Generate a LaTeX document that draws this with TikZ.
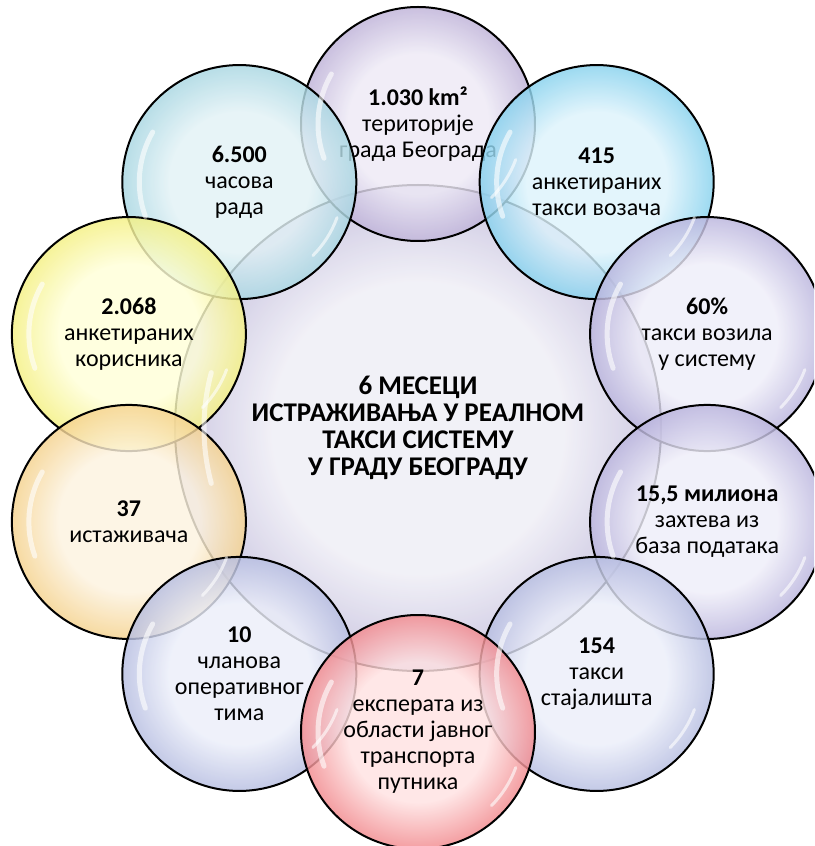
\documentclass[tikz,border=0pt]{standalone}
\usepackage{fontspec}
\setmainfont{Carlito}
\usetikzlibrary{calc}

% colours of the bubbles (rim / inside)
\definecolor{lilacrim}{HTML}{7A62AE}
\definecolor{lilacin}{HTML}{EEEAF6}
\definecolor{cyanrim}{HTML}{0AA2DA}
\definecolor{cyanin}{HTML}{DDF3FC}
\definecolor{violetrim}{HTML}{6E62B6}
\definecolor{violetin}{HTML}{EFEEF9}
\definecolor{peririm}{HTML}{6A77BE}
\definecolor{periin}{HTML}{ECEFFA}
\definecolor{redrim}{HTML}{E00A14}
\definecolor{redin}{HTML}{FFE2E2}
\definecolor{orangerim}{HTML}{EAA418}
\definecolor{orangein}{HTML}{FDF3E0}
\definecolor{yellowrim}{HTML}{E6DC08}
\definecolor{yellowin}{HTML}{FFFFD8}
\definecolor{tealrim}{HTML}{56B0C6}
\definecolor{tealin}{HTML}{E2F2F6}
\definecolor{hubrim}{HTML}{8074B6}
\definecolor{hubin}{HTML}{EFEEF6}
\colorlet{bubin}{white}
\colorlet{bubout}{black}

\pgfdeclareradialshading[bubin,bubout]{bubble}{\pgfpoint{0bp}{0bp}}{%
  color(0bp)=(bubin); color(15bp)=(bubin);
  color(26bp)=(bubout!45!bubin); color(33bp)=(bubout); color(50bp)=(bubout)}

\tikzset{
  bubble/.style 2 args={circle, draw=black, line width=2pt,
    minimum size=234pt, inner sep=0pt, shade, shading=bubble,
    fill opacity=0.82, draw opacity=1, text opacity=1,
    align=center, font=\fontsize{24}{26}\selectfont,
    /utils/exec={\colorlet{bubout}{#1}\colorlet{bubin}{#2}}},
  hub/.style={bubble={hubrim}{hubin}, minimum size=486pt,
    font=\fontsize{27}{27}\selectfont\bfseries},
  glint/.style={white, line width=5pt, opacity=0.6, line cap=round}
}

\begin{document}
\begin{tikzpicture}[x=1pt, y=1pt]
\useasboundingbox (-418,-418) rectangle (396,428);
\clip (-418,-418) rectangle (396,428);
\fill[white] (-418,-418) rectangle (396,428);

\node[hub] (ctr) at (0,0) {6 МЕСЕЦИ\\ИСТРАЖИВАЊА У РЕАЛНОМ\\ТАКСИ СИСТЕМУ\\У ГРАДУ БЕОГРАДУ};

\node[bubble={lilacrim}{lilacin}] (b1) at (90:304) {\textbf{1.030 km²}\\територије\\града Београда};
\node[bubble={tealrim}{tealin}] (b10) at (126:304) {\textbf{6.500}\\часова\\рада};
\node[bubble={cyanrim}{cyanin}] (b2) at (54:304) {\textbf{415}\\анкетираних\\такси возача};
\node[bubble={violetrim}{violetin}] (b3) at (18:304) {\textbf{60\%}\\такси возила\\у систему};
\node[bubble={violetrim}{violetin}] (b4) at (-18:304) {\textbf{15,5 милиона}\\захтева из\\база података};
\node[bubble={peririm}{periin}] (b5) at (-54:304) {\textbf{154}\\такси\\стајалишта};
\node[bubble={yellowrim}{yellowin}] (b9) at (162:304) {\textbf{2.068}\\анкетираних\\корисника};
\node[bubble={orangerim}{orangein}] (b8) at (-162:304) {\textbf{37}\\истаживача};
\node[bubble={peririm}{periin}] (b7) at (-126:304) {\textbf{10}\\чланова\\оперативног\\тима};
\node[bubble={redrim}{redin}] (b6) at (-90:304) {\textbf{7}\\експерата из\\области јавног\\транспорта\\путника};

% glossy streaks
\draw[glint] ($(ctr)+(165:214)$) arc (165:195:214);
\foreach \i in {1,...,10}
{
\draw[glint] ($(b\i)+(150:100)$) arc (150:200:100);
\draw[glint, line width=3pt] ($(b\i)+(-20:104)$) arc (-20:-45:104);
}
\end{tikzpicture}
\end{document}
